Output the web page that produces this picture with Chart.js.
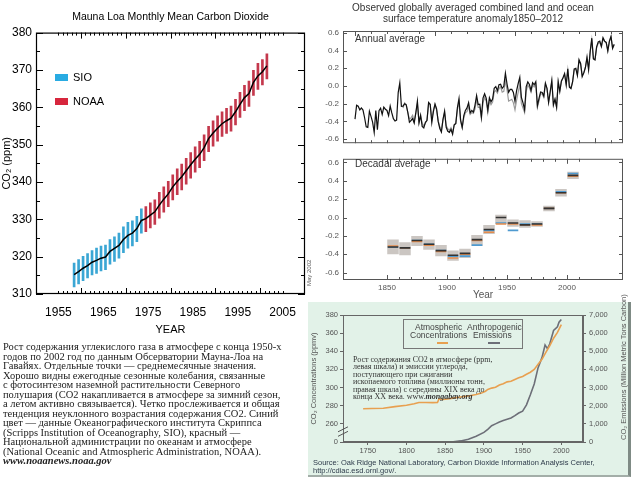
<!DOCTYPE html>
<html>
<head>
<meta charset="utf-8">
<script src="https://cdn.jsdelivr.net/npm/chart.js@4.4.1/dist/chart.umd.min.js"></script>
<style>
body { margin: 0; width: 640px; height: 480px; position: relative; overflow: hidden; background: #fff; font-family: Arial, "Liberation Sans", sans-serif; }
canvas, .abs { position: absolute; }
.serif { font-family: "Liberation Serif", "DejaVu Serif", serif; white-space: nowrap; }
#panel { left: 308px; top: 302px; width: 320px; height: 173px; background: #e2f2e8; border-right: 3px solid #7f8b85; border-bottom: 2px solid #a3aea8; }
</style>
</head>
<body>

<canvas id="maunaLoa" width="310" height="345" style="left:0;top:0"></canvas>
<canvas id="annualTemp" width="340" height="152" style="left:300px;top:0"></canvas>
<canvas id="decadalTemp" width="340" height="152" style="left:300px;top:150px"></canvas>
<div id="panel" class="abs"><canvas id="co2History" width="320" height="173" style="left:0;top:0"></canvas></div>

<!-- left chart legend -->
<div class="abs" style="left:55px;top:74px;width:13px;height:7px;background:#29abe2"></div>
<div class="abs" style="left:73px;top:70px;font-size:11px;line-height:14px">SIO</div>
<div class="abs" style="left:55px;top:98px;width:13px;height:7px;background:#d7263d"></div>
<div class="abs" style="left:73px;top:94px;font-size:11px;line-height:14px">NOAA</div>
<div class="abs" style="left:306px;top:286px;font-size:6px;color:#666;transform:rotate(-90deg);transform-origin:0 0;white-space:nowrap">May 2002</div>

<div class="abs serif" style="left:3px;top:342px;font-size:10.5px;line-height:9.5px;color:#222">
Рост содержания углекислого газа в атмосфере с конца 1950-х<br>
годов по 2002 год по данным Обсерватории Мауна-Лоа на<br>
Гавайях. Отдельные точки — среднемесячные значения.<br>
Хорошо видны ежегодные сезонные колебания, связанные<br>
с фотосинтезом наземной растительности Северного<br>
полушария (СО2 накапливается в атмосфере за зимний сезон,<br>
а летом активно связывается). Четко прослеживается и общая<br>
тенденция неуклонного возрастания содержания СО2. Синий<br>
цвет — данные Океанографического института Скриппса<br>
(Scripps Institution of Oceanography, SIO), красный —<br>
Национальной администрации по океанам и атмосфере<br>
(National Oceanic and Atmospheric Administration, NOAA).<br>
<b><i>www.noaanews.noaa.gov</i></b>
</div>

<!-- right top titles -->
<div class="abs" style="left:340px;top:2px;width:266px;text-align:center;font-size:10px;line-height:11px;color:#333">Observed globally averaged combined land and ocean<br>surface temperature anomaly1850–2012</div>
<div class="abs" style="left:355px;top:34px;font-size:10px;line-height:10px;color:#333">Annual average</div>
<div class="abs" style="left:355px;top:159px;font-size:10px;line-height:10px;color:#333">Decadal average</div>

<!-- bottom right extras -->
<div class="abs" style="left:403px;top:319px;width:118px;height:28px;border:1px solid #777;font-size:8.5px;line-height:8px;color:#444">
  <div class="abs" style="left:11px;top:3px">Atmospheric</div>
  <div class="abs" style="left:63px;top:3px">Anthropogenic</div>
  <div class="abs" style="left:6px;top:11px">Concentrations</div>
  <div class="abs" style="left:69px;top:11px">Emissions</div>
  <div class="abs" style="left:33px;top:22px;width:11px;height:2px;background:#e8a050"></div>
  <div class="abs" style="left:84px;top:22px;width:12px;height:2px;background:#6d6f78"></div>
</div>
<div class="abs serif" style="left:353px;top:356px;font-size:8px;line-height:7.4px;color:#333">
Рост содержания СО2 в атмосфере (ppm,<br>
левая шкала) и эмиссии углерода,<br>
поступающего при сжигании<br>
ископаемого топлива (миллионы тонн,<br>
правая шкала) с середины XIX века до<br>
конца XX века. www.<b><i>mongabay.org</i></b>
</div>
<div class="abs" style="left:313px;top:459px;font-size:7.5px;line-height:7.5px;color:#2d3a4a;white-space:nowrap">Source: Oak Ridge National Laboratory, Carbon Dioxide Information Analysis Center,<br>http://cdiac.esd.ornl.gov/.</div>
<div class="abs" style="left:619px;top:440px;font-size:7.5px;color:#555;transform:rotate(-90deg);transform-origin:0 0;white-space:nowrap">CO₂ Emissions (Million Metric Tons Carbon)</div>

<script>
// ---- Mauna Loa CO2 (left) ----
const co2Years = [1958,1959,1960,1961,1962,1963,1964,1965,1966,1967,1968,1969,1970,1971,1972,1973,1974,1975,1976,1977,1978,1979,
                  1980,1981,1982,1983,1984,1985,1986,1987,1988,1989,1990,1991,1992,1993,1994,1995,1996,1997,1998,1999,2000,2001];
const co2Mean = [315.2,316.0,316.9,317.6,318.5,319.0,319.6,319.9,321.4,322.2,323.0,324.6,325.7,326.3,327.5,329.7,330.2,331.1,332.0,333.8,335.4,336.8,
                 338.7,340.1,341.4,343.0,344.6,346.1,347.4,349.2,351.6,353.1,354.4,355.6,356.4,357.1,358.8,360.8,362.6,363.7,366.7,368.4,369.5,371.1];
const co2High = [318.3,319.2,320.1,320.8,321.6,322.3,322.8,323.1,324.6,325.3,326.3,328.0,329.2,329.6,330.8,332.8,333.4,334.4,335.2,337.2,338.7,340.2,
                 341.9,343.5,344.8,346.3,347.9,349.4,350.9,352.6,354.9,356.4,357.7,358.8,359.7,360.3,362.1,364.0,365.9,367.0,369.9,371.8,372.8,374.3];
const co2Low = [311.9,312.7,313.6,314.3,315.1,315.5,316.2,316.5,318.0,318.7,319.6,321.1,322.3,322.9,324.0,326.3,326.7,327.7,328.6,330.3,331.9,333.4,
                335.2,336.6,337.9,339.4,341.0,342.6,343.8,345.7,348.1,349.6,350.9,352.2,353.0,353.6,355.3,357.3,359.1,360.2,363.2,364.8,366.0,367.6];
const sioLastYear = 1973;
const co2XTicks = [1955,1965,1975,1985,1995,2005];
const co2YTicks = [310,320,330,340,350,360,370,380];

// ---- global temperature anomaly (right top) ----
const tempFirstYear = 1850;
const tempAnnual = [
-0.373,-0.218,-0.228,-0.269,-0.248,-0.272,-0.358,-0.461,-0.467,-0.284,
-0.343,-0.407,-0.524,-0.278,-0.494,-0.279,-0.251,-0.321,-0.238,-0.262,
-0.276,-0.335,-0.227,-0.304,-0.368,-0.395,-0.384,-0.075,0.035,-0.230,
-0.227,-0.200,-0.213,-0.296,-0.409,-0.389,-0.367,-0.418,-0.307,-0.171,
-0.416,-0.330,-0.455,-0.473,-0.410,-0.390,-0.186,-0.206,-0.412,-0.289,
-0.203,-0.259,-0.402,-0.479,-0.520,-0.377,-0.283,-0.465,-0.511,-0.522,
-0.490,-0.544,-0.437,-0.424,-0.244,-0.141,-0.383,-0.468,-0.333,-0.275,
-0.247,-0.187,-0.302,-0.276,-0.294,-0.215,-0.108,-0.210,-0.206,-0.350,
-0.137,-0.087,-0.137,-0.273,-0.131,-0.178,-0.147,-0.026,-0.006,-0.052,
0.014,0.020,-0.027,-0.004,0.144,0.025,-0.071,-0.038,-0.039,-0.074,
-0.173,-0.052,0.028,0.097,-0.129,-0.190,-0.267,-0.007,0.046,0.017,
-0.049,0.038,0.014,0.048,-0.223,-0.140,-0.068,-0.074,-0.113,0.032,
-0.027,-0.186,-0.065,0.062,-0.214,-0.149,-0.241,0.047,-0.062,0.057,
0.092,0.140,0.011,0.194,-0.014,-0.030,0.045,0.192,0.198,0.118,
0.296,0.254,0.105,0.148,0.208,0.325,0.183,0.390,0.539,0.306,
0.294,0.441,0.496,0.505,0.447,0.545,0.506,0.491,0.395,0.506,
0.560,0.425,0.470];
const greyFirstYear = 1880;
const tempAnnualGrey = [
-0.25,-0.19,-0.21,-0.30,-0.37,-0.36,-0.33,-0.40,-0.30,-0.20,
-0.41,-0.34,-0.42,-0.45,-0.42,-0.38,-0.20,-0.21,-0.38,-0.27,
-0.21,-0.27,-0.39,-0.46,-0.50,-0.38,-0.30,-0.45,-0.48,-0.50,
-0.47,-0.52,-0.44,-0.42,-0.27,-0.18,-0.40,-0.47,-0.36,-0.30,
-0.29,-0.23,-0.32,-0.30,-0.31,-0.26,-0.15,-0.24,-0.24,-0.37,
-0.19,-0.13,-0.17,-0.30,-0.17,-0.21,-0.18,-0.07,-0.05,-0.08,
-0.03,-0.01,-0.07,-0.06,0.06,-0.04,-0.17,-0.16,-0.15,-0.19,
-0.27,-0.16,-0.07,0.02,-0.20,-0.25,-0.30,-0.06,0.01,-0.02,
-0.07,0.01,-0.01,0.02,-0.24,-0.17,-0.09,-0.09,-0.13,0.02,
-0.03,-0.18,-0.07,0.05,-0.21,-0.15,-0.24,0.05,-0.05,0.05,
0.09,0.13,0.02,0.18,0.00,-0.02,0.05,0.18,0.20,0.13,
0.28,0.25,0.12,0.15,0.21,0.31,0.20,0.38,0.52,0.31,
0.30,0.43,0.48,0.49,0.44,0.53,0.50,0.49,0.40,0.50,
0.55,0.43,0.46];
const decades = [1850,1860,1870,1880,1890,1900,1910,1920,1930,1940,1950,1960,1970,1980,1990,2000];
const decMid  = [-0.32,-0.33,-0.25,-0.29,-0.36,-0.41,-0.39,-0.24,-0.13,0.00,-0.06,-0.08,-0.07,0.10,0.27,0.46];
const decHigh = [-0.24,-0.27,-0.20,-0.24,-0.30,-0.36,-0.34,-0.19,-0.08,0.03,-0.02,-0.03,-0.04,0.13,0.31,0.50];
const decLow  = [-0.40,-0.41,-0.31,-0.35,-0.42,-0.47,-0.44,-0.31,-0.18,-0.07,-0.10,-0.11,-0.10,0.07,0.23,0.42];
const decOrange = [-0.31,-0.33,-0.26,-0.30,-0.37,-0.44,-0.40,-0.25,-0.16,-0.07,-0.07,-0.08,-0.08,0.10,0.27,0.45];
const decBlue   = [-0.32,-0.33,-0.25,-0.29,-0.36,-0.42,-0.42,-0.30,-0.14,-0.06,-0.14,-0.07,-0.07,0.10,0.28,0.48];
const tempYTicks = [-0.6,-0.4,-0.2,0,0.2,0.4,0.6];
const tempXTicks = [1850,1900,1950,2000];

// ---- CO2 concentrations and emissions since 1744 (right bottom) ----
const concYears  = [1744,1755,1770,1785,1800,1810,1816,1825,1834,1840,1842,1847,1853,1860,1870,1880,1890,1897,1902,1905,
                    1910,1915,1920,1925,1930,1935,1940,1945,1950,1955,1960,1965,1970,1975,1980,1985,1990,1995,2000];
const concValues = [276.7,276.9,277.2,279.0,280.5,282.2,283.5,283.6,283.4,283.6,287.6,286.8,287.4,288.4,289.6,290.8,292.3,293.9,296.0,297.9,
                    299.4,300.3,302.8,304.2,306.3,306.9,308.9,310.7,312.3,314.6,316.9,320.0,325.7,331.1,338.7,346.1,354.4,360.8,369.5];
const emisYears  = [1858,1870,1880,1890,1900,1905,1910,1915,1920,1925,1930,1935,1940,1945,1950,1955,1960,1965,1970,1975,1979,1982,1985,1990,1995,1997,2000];
const emisValues = [0,60,150,320,530,700,900,1000,1100,1180,1250,1320,1450,1600,1700,2050,2600,3200,4100,4650,5350,5150,5400,6150,6350,6600,6750];
const concTicks = [240,260,280,300,320,340,360,380];
const emisTicks = [0,1000,2000,3000,4000,5000,6000,7000];
const historyXTicks = [1750,1800,1850,1900,1950,2000];

const ARIAL = 'Arial, "Liberation Sans", sans-serif';
const plain = v => String(v);
const noGrid = {display: false, drawTicks: false};

// box round the plot area with small inward ticks, like the IDL / IPCC plots
const frameTicks = {
  id: 'frameTicks',
  afterDatasetsDraw(chart, args, opts) {
    if (!opts || !opts.axes) return;
    const {ctx, chartArea: a, scales} = chart;
    ctx.save();
    ctx.strokeStyle = opts.color || '#000';
    ctx.lineWidth = opts.lineWidth || 1;
    ctx.strokeRect(a.left + 0.5, a.top + 0.5, a.right - a.left - 1, a.bottom - a.top - 1);
    ctx.lineWidth = 1;
    opts.axes.forEach(ax => {
      const s = scales[ax.id];
      for (let k = 0; ; k++) {
        const v = ax.from + k * ax.step;
        if (v > s.max + 1e-9) break;
        const r = v / ax.major;
        const len = Math.abs(r - Math.round(r)) < 1e-6 ? ax.majorLen : ax.minorLen;
        const p = Math.round(s.getPixelForValue(v)) + 0.5;
        ctx.beginPath();
        if (s.isHorizontal()) {
          ctx.moveTo(p, a.bottom); ctx.lineTo(p, a.bottom - len);
          ctx.moveTo(p, a.top); ctx.lineTo(p, a.top + len);
        } else {
          ctx.moveTo(a.left, p); ctx.lineTo(a.left + len, p);
          ctx.moveTo(a.right, p); ctx.lineTo(a.right - len, p);
        }
        ctx.stroke();
      }
    });
    ctx.restore();
  }
};
Chart.register(frameTicks);

const fixTicks = list => scale => { scale.ticks = list.map(v => ({value: v})); };

// ===== left: Mauna Loa =====
const co2Bars = co2Years.map((y, i) => ({x: y + 0.5, y: [co2Low[i], co2High[i]], year: y}));

new Chart(document.getElementById('maunaLoa'), {
  type: 'bar',
  data: {
    datasets: [
      {type: 'line', label: 'trend', data: co2Years.map((y, i) => ({x: y + 0.5, y: co2Mean[i]})),
       borderColor: '#000', borderWidth: 1.5, pointRadius: 0, order: 0},
      {label: 'SIO', data: co2Bars.filter(d => d.year <= sioLastYear), backgroundColor: '#3aa6d4',
       barThickness: 2, grouped: false, order: 1},
      {label: 'NOAA', data: co2Bars.filter(d => d.year > sioLastYear), backgroundColor: '#c4384c',
       barThickness: 2, grouped: false, order: 1}
    ]
  },
  options: {
    responsive: false,
    animation: false,
    layout: {padding: {left: 0, right: 5, top: 0, bottom: 0}},
    plugins: {
      legend: {display: false},
      tooltip: {enabled: false},
      title: {display: true, fullSize: false, text: 'Mauna Loa Monthly Mean Carbon Dioxide', color: '#000',
              font: {family: ARIAL, size: 10.5, weight: 'normal', lineHeight: 1.2}, padding: {top: 11, bottom: 9}},
      frameTicks: {color: '#000', lineWidth: 1.2, axes: [
        {id: 'x', from: 1955, step: 1, major: 10, minorLen: 3, majorLen: 6},
        {id: 'y', from: 310, step: 5, major: 10, minorLen: 4, majorLen: 7}
      ]}
    },
    scales: {
      x: {
        type: 'linear', min: 1955, max: 2005,
        afterBuildTicks: fixTicks(co2XTicks),
        afterFit: s => { s.height = 51; },
        grid: noGrid, border: {display: false},
        ticks: {autoSkip: false, maxRotation: 0, padding: 11, color: '#000', font: {family: ARIAL, size: 12}, callback: plain},
        title: {display: true, text: 'YEAR', color: '#000', font: {family: ARIAL, size: 11, lineHeight: 1.2}, padding: {top: 0, bottom: 8}}
      },
      y: {
        min: 310, max: 380,
        afterBuildTicks: fixTicks(co2YTicks),
        afterFit: s => { s.width = 36; },
        grid: noGrid, border: {display: false},
        ticks: {padding: 4, color: '#000', font: {family: ARIAL, size: 12}},
        title: {display: true, text: 'CO₂ (ppm)', color: '#000', font: {family: ARIAL, size: 11, lineHeight: 1.2}, padding: {top: 0, bottom: 0}}
      }
    }
  }
});

// ===== right top: annual average =====
const tempScaleX = {type: 'linear', min: 1842.5, max: 2017.5};
const tempYScale = extra => Object.assign({
  afterBuildTicks: fixTicks(tempYTicks),
  afterFit: s => { s.width = 43; },
  grid: noGrid, border: {display: false},
  ticks: {padding: 4, color: '#555', font: {family: ARIAL, size: 8}, callback: v => v.toFixed(1)}
}, extra);
const tempFrame = [
  {id: 'x', from: 1850, step: 10, major: 50, minorLen: 3, majorLen: 5},
  {id: 'y', from: -0.6, step: 0.2, major: 0.2, minorLen: 4, majorLen: 4}
];

new Chart(document.getElementById('annualTemp'), {
  type: 'line',
  data: {
    datasets: [
      {data: tempAnnual.map((v, i) => ({x: tempFirstYear + i, y: v})), borderColor: '#111', borderWidth: 1.2, pointRadius: 0, order: 0},
      {data: tempAnnualGrey.map((v, i) => ({x: greyFirstYear + i, y: v})), borderColor: '#9a9a9a', borderWidth: 1.2, pointRadius: 0, order: 1}
    ]
  },
  options: {
    responsive: false,
    animation: false,
    layout: {padding: {left: 0, right: 17, top: 31, bottom: 2}},
    plugins: {legend: {display: false}, tooltip: {enabled: false},
              frameTicks: {color: '#555', axes: tempFrame}},
    scales: {
      x: Object.assign({display: false}, tempScaleX),
      y: tempYScale({min: -0.645, max: 0.62})
    }
  }
});

// ===== right middle: decadal average =====
const segs = vals => decades.flatMap((d, i) => [{x: d + 0.6, y: vals[i]}, {x: d + 9.4, y: vals[i]}, {x: d + 9.4, y: null}]);

new Chart(document.getElementById('decadalTemp'), {
  type: 'bar',
  data: {
    datasets: [
      {type: 'line', data: segs(decMid), borderColor: '#333', borderWidth: 1.6, pointRadius: 0, spanGaps: false, order: 0},
      {type: 'line', data: segs(decOrange), borderColor: '#e58c4c', borderWidth: 1.6, pointRadius: 0, spanGaps: false, order: 1},
      {type: 'line', data: segs(decBlue), borderColor: '#4f9ad0', borderWidth: 1.6, pointRadius: 0, spanGaps: false, order: 2},
      {data: decades.map((d, i) => ({x: d + 5, y: [decLow[i], decHigh[i]]})), backgroundColor: '#cbc6c2',
       barPercentage: 0.96, categoryPercentage: 1, order: 3}
    ]
  },
  options: {
    responsive: false,
    animation: false,
    layout: {padding: {left: 0, right: 17, top: 3, bottom: 0}},
    plugins: {legend: {display: false}, tooltip: {enabled: false},
              frameTicks: {color: '#555', axes: tempFrame}},
    scales: {
      x: Object.assign({
        afterBuildTicks: fixTicks(tempXTicks),
        afterFit: s => { s.height = 22; },
        grid: noGrid, border: {display: false},
        ticks: {autoSkip: false, maxRotation: 0, padding: 3, color: '#555', font: {family: ARIAL, size: 8}, callback: plain},
        title: {display: true, text: 'Year', color: '#555', font: {family: ARIAL, size: 10, lineHeight: 1.2}, padding: {top: 0, bottom: 1}}
      }, tempScaleX),
      y: tempYScale({min: -0.68, max: 0.64})
    }
  }
});

// ===== right bottom: CO2 since 1744 =====
const axisBreak = {
  id: 'axisBreak',
  afterDraw(chart) {
    const {ctx, chartArea: a, scales: {y}} = chart;
    ctx.save();
    ctx.strokeStyle = '#555';
    ctx.lineWidth = 1;
    [249, 254].forEach(v => {
      const p = y.getPixelForValue(v);
      ctx.beginPath();
      ctx.moveTo(a.left - 5, p + 2.5);
      ctx.lineTo(a.left + 5, p - 2.5);
      ctx.stroke();
    });
    ctx.restore();
  }
};

const smallTicks = {color: '#555', font: {family: ARIAL, size: 7.5}};
const outGrid = {drawOnChartArea: false, tickLength: 3, color: '#666'};

new Chart(document.getElementById('co2History'), {
  type: 'line',
  data: {
    datasets: [
      {data: concYears.map((y, i) => ({x: y, y: concValues[i]})), yAxisID: 'y', borderColor: '#e8a050', borderWidth: 1.6, pointRadius: 0},
      {data: emisYears.map((y, i) => ({x: y, y: emisValues[i]})), yAxisID: 'y2', borderColor: '#6d6f78', borderWidth: 1.6, pointRadius: 0}
    ]
  },
  plugins: [axisBreak],
  options: {
    responsive: false,
    animation: false,
    layout: {padding: {left: 0, right: 0, top: 13, bottom: 0}},
    plugins: {legend: {display: false}, tooltip: {enabled: false},
              frameTicks: {color: '#666', axes: []}},
    scales: {
      x: {
        type: 'linear', min: 1718, max: 2028,
        afterBuildTicks: fixTicks(historyXTicks),
        afterFit: s => { s.height = 33; },
        grid: outGrid, border: {color: '#666'},
        ticks: Object.assign({autoSkip: false, maxRotation: 0, padding: 1, callback: plain}, smallTicks)
      },
      y: {
        position: 'left', min: 240, max: 380,
        afterBuildTicks: fixTicks(concTicks),
        afterFit: s => { s.width = 35; },
        grid: outGrid, border: {color: '#666'},
        ticks: Object.assign({padding: 2, callback: v => v === 240 ? '0' : v}, smallTicks),
        title: {display: true, text: 'CO₂ Concentrations (ppmv)', color: '#555', font: {family: ARIAL, size: 7.5, lineHeight: 1.2}, padding: {top: 1, bottom: 0}}
      },
      y2: {
        position: 'right', min: 0, max: 7000,
        afterBuildTicks: fixTicks(emisTicks),
        afterFit: s => { s.width = 45; },
        grid: outGrid, border: {color: '#666'},
        ticks: Object.assign({padding: 3, callback: v => v.toLocaleString('en-US')}, smallTicks)
      }
    }
  }
});
</script>
</body>
</html>
